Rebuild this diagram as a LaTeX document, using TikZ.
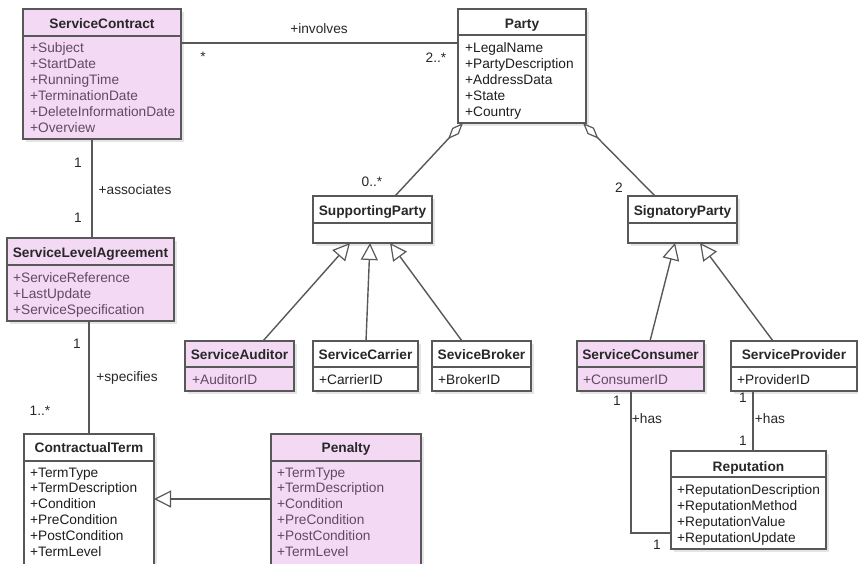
\documentclass[tikz,border=0pt]{standalone}
\usepackage{fontspec}
\setmainfont{Liberation Sans}
\usetikzlibrary{fit,arrows.meta,shadows}

\definecolor{classpink}{RGB}{243,217,243}
\definecolor{edge}{RGB}{88,88,88}
\definecolor{titletext}{RGB}{40,40,40}
\definecolor{pinktext}{RGB}{96,76,96}
\definecolor{plaintext}{RGB}{30,30,30}

% one class box: name, style, two corners, y of the compartment line, title, title baseline
\newcommand\umlclass[7]{%
  \node[#2, fit={#3 #4}] (#1) {};
  \draw[sepline] (#1.west |- 0,#5) -- (#1.east |- 0,#5);
  \node[classtitle, anchor=base] (#1-title) at #7 {#6};
}
% attribute rows: name, text style, x, first baseline, row step, list
\newcommand\umlattrs[6]{%
  \foreach \a [count=\i from 0] in {#6} {
    \pgfmathsetmacro\rowy{#4+#5*\i}
    \node[#2, anchor=base west] (#1-a\i) at (#3,\rowy) {\a};
  }
}

\begin{document}
\begin{tikzpicture}[x=1pt, y=-1pt,
  font=\fontsize{13.7}{16}\selectfont,
  box/.style={draw=edge, line width=1.4pt, inner sep=0pt, outer sep=0pt,
    drop shadow={shadow xshift=3pt, shadow yshift=-3pt, fill=black!10, opacity=1}},
  pinkbox/.style={box, fill=classpink},
  whitebox/.style={box, fill=white},
  sepline/.style={draw=edge, line width=1.4pt},
  classtitle/.style={inner sep=0pt, font=\fontsize{13.7}{16}\selectfont\bfseries, text=titletext},
  pinkattr/.style={inner sep=0pt, text=pinktext},
  attr/.style={inner sep=0pt, text=plaintext},
  lbl/.style={inner sep=0pt, text=titletext},
  link/.style={draw=edge, line width=1.4pt},
  aggr/.style={link, -{Diamond[open, length=22pt, width=9pt, fill=white, line width=1.2pt]}},
  gen/.style={link, -{Triangle[open, length=17pt, width=17pt, fill=white, line width=1.2pt]}},
]
\useasboundingbox (0,0) rectangle (858,563);
\clip (0,0) rectangle (858,563);
\fill[white] (0,0) rectangle (858,563);

% ---- classes ----
\umlclass{sc}{pinkbox}{(23,9)}{(181,139)}{36}{ServiceContract}{(102,28)}
\umlattrs{sc}{pinkattr}{30}{52}{16}{+Subject,+StartDate,+RunningTime,+TerminationDate,+DeleteInformationDate,+Overview}

\umlclass{party}{whitebox}{(458,9)}{(586,123)}{35}{Party}{(522,28)}
\umlattrs{party}{attr}{465}{52}{16.2}{+LegalName,+PartyDescription,+AddressData,+State,+Country}

\umlclass{supp}{whitebox}{(313,196)}{(432,243)}{223}{SupportingParty}{(372.5,215)}
\umlclass{sig}{whitebox}{(628,196)}{(737,243)}{223}{SignatoryParty}{(682.5,215)}

\umlclass{aud}{pinkbox}{(185,341)}{(294,391)}{367}{ServiceAuditor}{(239.5,359)}
\umlattrs{aud}{pinkattr}{192}{384}{16}{+AuditorID}
\umlclass{car}{whitebox}{(313,341)}{(418,391)}{367}{ServiceCarrier}{(365.5,359)}
\umlattrs{car}{attr}{319}{384}{16}{+CarrierID}
\umlclass{bro}{whitebox}{(432,341)}{(531,391)}{367}{SeviceBroker}{(481.5,359)}
\umlattrs{bro}{attr}{438}{384}{16}{+BrokerID}
\umlclass{con}{pinkbox}{(577,341)}{(704,391)}{367}{ServiceConsumer}{(640.5,359)}
\umlattrs{con}{pinkattr}{583}{384}{16}{+ConsumerID}
\umlclass{pro}{whitebox}{(731,341)}{(857,391)}{367}{ServiceProvider}{(794,359)}
\umlattrs{pro}{attr}{737}{384}{16}{+ProviderID}

\umlclass{rep}{whitebox}{(671,451)}{(826,549)}{477}{Reputation}{(748.5,471)}
\umlattrs{rep}{attr}{677}{494}{16}{+ReputationDescription,+ReputationMethod,+ReputationValue,+ReputationUpdate}

\umlclass{sla}{pinkbox}{(7,238)}{(174,321)}{265}{ServiceLevelAgreement}{(90.5,257)}
\umlattrs{sla}{pinkattr}{13}{282}{16}{+ServiceReference,+LastUpdate,+ServiceSpecification}

\umlclass{ct}{whitebox}{(24,434)}{(154,585)}{461}{ContractualTerm}{(89,452)}
\umlattrs{ct}{attr}{30}{477}{15.9}{+TermType,+TermDescription,+Condition,+PreCondition,+PostCondition,+TermLevel}
\umlclass{pen}{pinkbox}{(271,434)}{(421,585)}{461}{Penalty}{(346,452)}
\umlattrs{pen}{pinkattr}{277}{477}{15.9}{+TermType,+TermDescription,+Condition,+PreCondition,+PostCondition,+TermLevel}

% ---- associations ----
\draw[link] (sc.east |- 0,43) -- (party.west |- 0,43);
\node[lbl] (l-inv) at (319,29) {+involves};
\node[lbl] (l-star) at (203,57) {*};
\node[lbl] (l-2s) at (436,58) {2..*};

\draw[link] (sc.south -| 92,0) -- (sla.north -| 92,0);
\node[lbl] (l-sc1) at (78,163) {1};
\node[lbl] (l-assoc) at (135,190) {+associates};
\node[lbl] (l-sla1) at (78,218) {1};

\draw[link] (sla.south -| 89,0) -- (ct.north -| 89,0);
\node[lbl] (l-sla2) at (77,344) {1};
\node[lbl] (l-spec) at (127,378) {+specifies};
\node[lbl] (l-ct) at (40,411) {1..*};

% ---- aggregations ----
\draw[aggr] (supp.north -| 395,0) -- (party.south -| 463,0);
\draw[aggr] (sig.north -| 655,0) -- (party.south -| 583,0);
\node[lbl] (l-0s) at (372,182) {0..*};
\node[lbl] (l-two) at (619,188) {2};

% ---- generalizations ----
\draw[gen] (aud.north -| 263,0) -- (supp.south -| 350,0);
\draw[gen] (car.north -| 366,0) -- (supp.south -| 370,0);
\draw[gen] (bro.north -| 462,0) -- (supp.south -| 390,0);
\draw[gen] (con.north -| 650,0) -- (sig.south -| 675,0);
\draw[gen] (pro.north -| 773,0) -- (sig.south -| 700,0);
\draw[gen] (pen.west |- 0,499) -- (ct.east |- 0,499);

% ---- reputation links ----
\draw[link] (con.south -| 631,0) |- (rep.west |- 0,533);
\node[lbl] (l-c1) at (617,401) {1};
\node[lbl] (l-chas) at (647,419) {+has};
\node[lbl] (l-c2) at (657,545) {1};

\draw[link] (pro.south -| 753,0) -- (rep.north -| 753,0);
\node[lbl] (l-p1) at (743,398) {1};
\node[lbl] (l-phas) at (770,419) {+has};
\node[lbl] (l-p2) at (743,441) {1};
\end{tikzpicture}
\end{document}
